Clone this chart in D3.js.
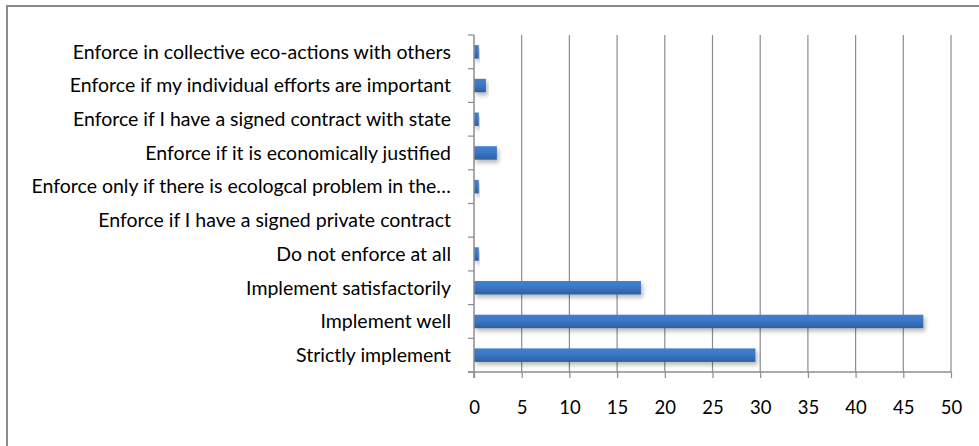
<!DOCTYPE html>
<html><head><meta charset="utf-8">
<script src="https://cdn.jsdelivr.net/npm/d3@7"></script>
<style>html,body{margin:0;padding:0;background:#fff;}svg{display:block;}</style>
</head><body>
<svg id="chart" width="979" height="446"></svg>
<script>
const categories = [
  "Enforce in collective eco-actions with others",
  "Enforce if my individual efforts are important",
  "Enforce if I have a signed contract with state",
  "Enforce if it is economically justified",
  "Enforce only if there is ecologcal problem in the\u2026",
  "Enforce if I have a signed private contract",
  "Do not enforce at all",
  "Implement satisfactorily",
  "Implement well",
  "Strictly implement"
];
const values = [0.5, 1.25, 0.5, 2.4, 0.5, 0, 0.5, 17.5, 47.1, 29.5];
const xTicks = [0, 5, 10, 15, 20, 25, 30, 35, 40, 45, 50];

const svg = d3.select("#chart");
const font = "Lato, 'Open Sans', sans-serif";
const pLeft = 474, pRight = 951, pTop = 35, pBottom = 372;

svg.append("rect").attr("x", 7).attr("y", 6).attr("width", 990).attr("height", 460)
  .attr("fill", "none").attr("stroke", "#8a8a8a").attr("stroke-width", 2);

const defs = svg.append("defs");
const grad = defs.append("linearGradient").attr("id", "bargrad")
  .attr("x1", 0).attr("y1", 0).attr("x2", 0).attr("y2", 1);
grad.append("stop").attr("offset", "0%").attr("stop-color", "#3f80cf");
grad.append("stop").attr("offset", "45%").attr("stop-color", "#3b78c6");
grad.append("stop").attr("offset", "100%").attr("stop-color", "#2d5f9f");
const flt = defs.append("filter").attr("id", "shadow").attr("x", "-10%").attr("y", "-50%").attr("width", "130%").attr("height", "250%");
flt.append("feDropShadow").attr("dx", 2).attr("dy", 3).attr("stdDeviation", 2).attr("flood-color", "#000").attr("flood-opacity", 0.28);

const x = d3.scaleLinear().domain([0, 50]).range([pLeft, pRight]);
const y = d3.scaleBand().domain(categories).range([pTop, pBottom]).paddingInner(0.6).paddingOuter(0.3);

// gridlines
svg.append("g").selectAll("line").data(xTicks.slice(1)).join("line")
  .attr("x1", d => x(d)).attr("x2", d => x(d)).attr("y1", pTop).attr("y2", pBottom)
  .attr("stroke", "#8c8c8c").attr("stroke-width", 1.2);

// bars
svg.append("g").selectAll("rect").data(categories.map((c, i) => ({c, v: values[i]})).filter(d => d.v > 0)).join("rect")
  .attr("x", x(0)).attr("y", d => y(d.c)).attr("width", d => x(d.v) - x(0)).attr("height", y.bandwidth())
  .attr("fill", "url(#bargrad)").attr("filter", "url(#shadow)");

// x axis
const xAxis = d3.axisBottom(x).tickValues(xTicks).tickSize(6).tickPadding(23).tickSizeOuter(0);
const gx = svg.append("g").attr("transform", `translate(0,${pBottom})`).call(xAxis);
gx.select(".domain").attr("stroke", "#8c8c8c").attr("stroke-width", 1.5).attr("d", `M${pLeft-6},0H${pRight}`);
gx.selectAll(".tick line").attr("stroke", "#8c8c8c").attr("stroke-width", 1.2);
gx.selectAll(".tick text").attr("font-family", font).attr("font-size", 18.5).attr("fill", "#000");

// y axis
const step = (pBottom - pTop) / categories.length;
const yTickPos = d3.range(categories.length + 1).map(i => pTop + i * step);
svg.append("line").attr("x1", pLeft).attr("x2", pLeft).attr("y1", pTop).attr("y2", pBottom + 6)
  .attr("stroke", "#8c8c8c").attr("stroke-width", 1.5);
svg.append("g").selectAll("line").data(yTickPos).join("line")
  .attr("x1", pLeft - 6).attr("x2", pLeft).attr("y1", d => d).attr("y2", d => d)
  .attr("stroke", "#8c8c8c").attr("stroke-width", 1.2);
svg.append("g").selectAll("text").data(categories).join("text")
  .attr("x", 451).attr("y", d => y(d) + y.bandwidth() / 2).attr("dy", "0.35em")
  .attr("text-anchor", "end").attr("font-family", font).attr("font-size", 19.5).attr("fill", "#000")
  .text(d => d);
</script>
</body></html>
